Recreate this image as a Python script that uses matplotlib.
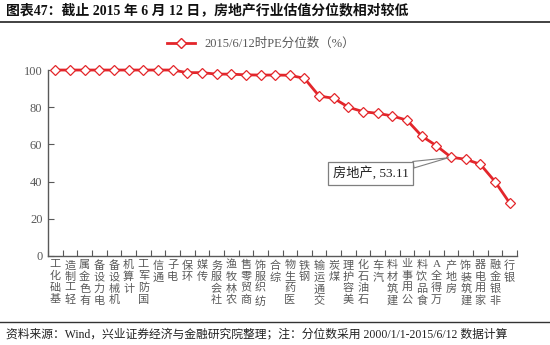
import matplotlib
matplotlib.use("Agg")
import matplotlib.pyplot as plt
from matplotlib.lines import Line2D
import numpy as np

plt.rcParams['font.family'] = ['Liberation Serif', 'Noto Sans CJK SC']

# data
industries = ['基础化工', '轻工制造', '有色金属', '电力设备', '机械设备', '计算机', '国防军工',
              '通信', '电子', '环保', '传媒', '社会服务', '农林牧渔', '商贸零售', '纺织服饰',
              '综合', '医药生物', '钢铁', '交通运输', '煤炭', '美容护理', '石油石化', '汽车',
              '建筑材料', '公用事业', '食品饮料', '万得全A', '房地产', '建筑装饰', '家用电器',
              '非银金融', '银行']
pe_pct = [100, 100, 100, 100, 100, 100, 100, 100, 100, 98.6, 98.6, 97.8, 97.8, 97.4,
          97.3, 97.3, 97.2, 95.5, 86.0, 84.8, 80.0, 77.6, 76.7, 75.3, 73.0, 64.5, 59.3,
          53.11, 52.0, 49.3, 40.0, 28.5]
yticks = [0, 20, 40, 60, 80, 100]

red = '#E3262B'
grey = '#595959'

fig = plt.figure(figsize=(5.5, 3.45), dpi=100)
ax = fig.add_axes([0.0873, 0.258, 0.8527, 0.539])

x = np.arange(len(industries))
ax.plot(x, pe_pct, color=red, linewidth=2.0, marker='D', markersize=5.5,
        markerfacecolor='white', markeredgecolor=red, markeredgewidth=0.9,
        clip_on=False, zorder=3)

ax.set_xlim(-0.3, len(industries) - 0.7)
ax.set_ylim(0, 100)
ax.set_yticks(yticks)
ax.set_yticklabels([str(v) for v in yticks], fontsize=9, color=grey)

# category boundary ticks + stacked vertical labels (read bottom to top)
ax.set_xticks(np.arange(-0.5, len(industries) + 0.5, 1), minor=False)
ax.set_xticklabels([])
ax.set_xticks(x, minor=True)
ax.set_xticklabels(['\n'.join(reversed(s)) for s in industries], minor=True,
                   fontsize=8, color=grey, linespacing=1.2, va='top')
ax.tick_params(axis='x', which='minor', length=0, pad=3)
ax.tick_params(axis='x', which='major', direction='in', length=4, color=grey)
ax.tick_params(axis='y', direction='in', length=4, color=grey, pad=4)

for side in ['top', 'right']:
    ax.spines[side].set_visible(False)
for side in ['left', 'bottom']:
    ax.spines[side].set_color(grey)
    ax.spines[side].set_linewidth(1.0)

# callout for real estate
i_re = industries.index('房地产')
ax.annotate(f'房地产, {pe_pct[i_re]:.2f}', xy=(i_re, pe_pct[i_re]), xytext=(21.5, 44.5),
            fontsize=9.5, ha='center', va='center', color='#222222',
            bbox=dict(boxstyle='square,pad=0.35', fc='white', ec='#7f7f7f', lw=0.9),
            arrowprops=dict(arrowstyle='wedge,tail_width=0.5', fc='white', ec='#7f7f7f',
                            lw=0.8, shrinkA=0, shrinkB=2),
            zorder=4)

# legend
handle = Line2D([], [], color=red, linewidth=2.0, marker='D', markersize=5.5,
                markerfacecolor='white', markeredgecolor=red)
fig.legend([handle], ['2015/6/12时PE分位数（%）'], loc='center',
           bbox_to_anchor=(0.475, 0.872), frameon=False, fontsize=9,
           handlelength=2.2, labelcolor=grey)

# title and footer
fig.text(0.01, 0.97, '图表47：截止 2015 年 6 月 12 日，房地产行业估值分位数相对较低',
         fontsize=10, fontweight='bold', va='center', ha='left', color='#111111')
fig.add_artist(Line2D([0, 1], [0.937, 0.937], color='#333333', linewidth=1.3))
fig.add_artist(Line2D([0, 1], [0.067, 0.067], color='#333333', linewidth=1.0))
fig.text(0.01, 0.032, '资料来源：Wind，兴业证券经济与金融研究院整理；注：分位数采用 2000/1/1-2015/6/12 数据计算',
         fontsize=8.5, va='center', ha='left', color='#222222')

fig.savefig('out.png', dpi=100)
